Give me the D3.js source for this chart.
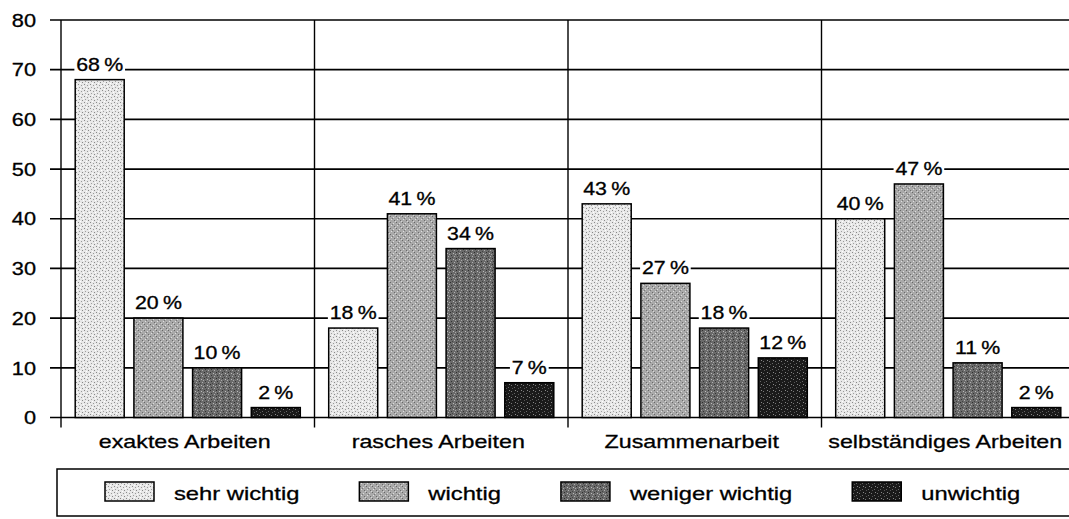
<!DOCTYPE html>
<html>
<head>
<meta charset="utf-8">
<script src="https://cdn.jsdelivr.net/npm/d3@7"></script>
<style>
  html, body { margin: 0; padding: 0; background: #fff; }
  svg { display: block; }
  text { font-family: "Liberation Sans", Arial, sans-serif; fill: #000; stroke: #000; stroke-width: 0.3px; }
</style>
</head>
<body>
<svg id="chart" width="1069" height="519"></svg>
<script>
// ---- data ----
const categories = ["exaktes Arbeiten", "rasches Arbeiten", "Zusammenarbeit", "selbständiges Arbeiten"];
const seriesNames = ["sehr wichtig", "wichtig", "weniger wichtig", "unwichtig"];
const sehrWichtig = [68, 18, 43, 40];
const wichtig = [20, 41, 27, 47];
const wenigerWichtig = [10, 34, 18, 11];
const unwichtig = [2, 7, 12, 2];
const yTicks = [0, 10, 20, 30, 40, 50, 60, 70, 80];

const seriesValues = [sehrWichtig, wichtig, wenigerWichtig, unwichtig];

// ---- layout ----
const svg = d3.select("#chart");
const plotLeft = 61, plotRight = 1075, plotTop = 20, plotBottom = 417.5;

const y = d3.scaleLinear().domain([0, 80]).range([plotBottom, plotTop]);
const x0 = d3.scaleBand().domain(categories).range([plotLeft, plotRight]).padding(0);
const x1 = d3.scaleBand().domain(seriesNames).range([0, x0.bandwidth()])
  .paddingInner(0.165).paddingOuter(0.242);

// ---- patterns (halftone-like fills) ----
const defs = svg.append("defs");
const patternStyles = [
  { base: "#e8e8e8", dots: [[0,0,"#8a8a8a"],[3,1,"#9a9a9a"],[1,3,"#a0a0a0"],[4,4,"#888"],[2,5,"#fff"],[5,2,"#fff"]] },
  { base: "#a9a9a9", dots: [[0,0,"#666"],[3,1,"#ddd"],[1,3,"#e0e0e0"],[4,4,"#6a6a6a"],[2,2,"#777"],[5,5,"#d8d8d8"]] },
  { base: "#6a6a6a", dots: [[0,0,"#2e2e2e"],[3,1,"#bcbcbc"],[1,3,"#333"],[4,4,"#b0b0b0"],[2,5,"#444"],[5,2,"#a8a8a8"]] },
  { base: "#1a1a1a", dots: [[1,1,"#777"],[4,3,"#666"],[2,4,"#555"],[5,0,"#888"]] }
];
patternStyles.forEach((p, i) => {
  const pat = defs.append("pattern").attr("id", "pat" + i)
    .attr("width", 6).attr("height", 6).attr("patternUnits", "userSpaceOnUse");
  pat.append("rect").attr("width", 6).attr("height", 6).attr("fill", p.base);
  p.dots.forEach(d => pat.append("rect").attr("x", d[0]).attr("y", d[1])
    .attr("width", 1).attr("height", 1).attr("fill", d[2]));
});

// ---- gridlines + ticks ----
svg.append("g").selectAll("line").data(yTicks).join("line")
  .attr("x1", plotLeft - 11).attr("x2", plotRight)
  .attr("y1", d => y(d)).attr("y2", d => y(d))
  .attr("stroke", "#000").attr("stroke-width", 1.7);

// y axis + group separators
const sepXs = [plotLeft].concat(categories.slice(1).map(c => x0(c)));
svg.append("g").selectAll("line").data(sepXs).join("line")
  .attr("x1", d => d).attr("x2", d => d)
  .attr("y1", plotTop).attr("y2", plotBottom + 10)
  .attr("stroke", "#000").attr("stroke-width", 1.4);

// y tick labels
svg.append("g").selectAll("g").data(yTicks).join("g")
  .attr("transform", d => `translate(36,${y(d)}) scale(1.17,1)`)
  .append("text").attr("text-anchor", "end").attr("dy", "0.36em")
  .style("font-size", "18.6px").text(d => d);

// ---- value labels with white backgrounds ----
const flat = [];
categories.forEach((c, ci) => seriesNames.forEach((s, si) =>
  flat.push({ cat: c, ser: s, si, value: seriesValues[si][ci] })));

const labels = svg.append("g").selectAll("g").data(flat).join("g")
  .attr("transform", d => `translate(${x0(d.cat) + x1(d.ser) + x1.bandwidth() / 2},${y(d.value) - 9}) scale(1.22,1)`);
labels.append("rect").attr("fill", "#fff");
labels.append("text").attr("text-anchor", "middle")
  .style("font-size", "17.5px").text(d => d.value + "\u2009%");
labels.each(function () {
  const g = d3.select(this);
  const bb = g.select("text").node().getBBox();
  g.select("rect").attr("x", bb.x - 1.5).attr("y", bb.y + 1)
    .attr("width", bb.width + 3).attr("height", bb.height + 1);
});

// ---- bars ----
svg.append("g").selectAll("rect").data(flat).join("rect")
  .attr("x", d => x0(d.cat) + x1(d.ser))
  .attr("width", x1.bandwidth())
  .attr("y", d => y(d.value))
  .attr("height", d => y(0) - y(d.value))
  .attr("fill", d => `url(#pat${d.si})`)
  .attr("stroke", "#000").attr("stroke-width", 1.5);

// ---- category labels ----
svg.append("g").selectAll("g").data(categories).join("g")
  .attr("transform", d => `translate(${x0(d) + x0.bandwidth() / 2 - 3},448) scale(1.25,1)`)
  .append("text").attr("text-anchor", "middle").style("font-size", "18.6px").text(d => d);

// ---- legend ----
const legendTop = 469, legendBottom = 516, legendLeft = 57;
svg.append("path")
  .attr("d", `M${plotRight},${legendTop}H${legendLeft}V${legendBottom}H${plotRight}`)
  .attr("fill", "none").attr("stroke", "#000").attr("stroke-width", 1.5);

const legend = svg.append("g");
let lx = 105;
seriesNames.forEach((name, i) => {
  legend.append("rect").attr("x", lx).attr("y", 482).attr("width", 49).attr("height", 19)
    .attr("fill", `url(#pat${i})`).attr("stroke", "#000").attr("stroke-width", 1.5);
  const tg = legend.append("g").attr("transform", `translate(${lx + 69},499.7) scale(1.25,1)`);
  const t = tg.append("text").style("font-size", "19px").text(name);
  const w = t.node().getComputedTextLength() * 1.25;
  lx = lx + 69 + w + 60;
});
</script>
</body>
</html>
